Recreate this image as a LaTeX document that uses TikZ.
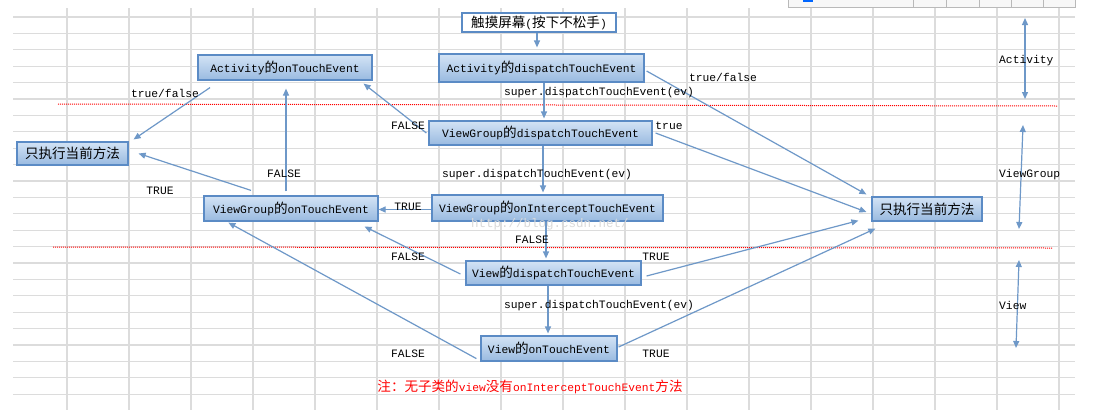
\documentclass[tikz,border=0pt]{standalone}
\usepackage{fontspec}
\setmainfont{Liberation Mono}
\newfontfamily\cjk{Noto Sans CJK SC}[Scale=1.2]
\usetikzlibrary{arrows.meta}

\definecolor{gridgray}{HTML}{DCDCDC}
\definecolor{boxline}{HTML}{5B8BC5}
\definecolor{boxtop}{HTML}{D3E3F5}
\definecolor{boxbot}{HTML}{99BAE0}
\definecolor{flowblue}{HTML}{6E98C8}
\definecolor{markgray}{HTML}{DADADA}

\begin{document}
\begin{tikzpicture}[
  x=1pt, y=-1pt,
  font=\fontsize{11.3}{13}\selectfont,
  fn/.style={draw=boxline, line width=1.2pt, top color=boxtop, bottom color=boxbot, inner sep=0pt},
  startbox/.style={draw=boxline, line width=1.2pt, fill=white, inner sep=0pt},
  flow/.style={draw=flowblue, line width=1.2pt, -{Triangle[length=7pt,width=6pt]}, shorten >=2pt},
  span/.style={draw=flowblue, line width=1.2pt, {Triangle[length=7pt,width=6pt]}-{Triangle[length=7pt,width=6pt]}},
  lbl/.style={inner sep=0pt},
  gridline/.style={draw=gridgray, line width=1.3pt},
  layer/.style={draw=red, line width=1pt, dash pattern=on 1pt off 1pt}
]
\useasboundingbox (0,0) rectangle (1099,413);
\fill[white] (0,0) rectangle (1099,413);

\foreach \k in {0,...,23}
  \draw[gridline] (13,{17+16.4*\k}) -- (1075,{17+16.4*\k});
\foreach \k in {0,...,16}
  \draw[gridline] ({67+62*\k},8) -- ({67+62*\k},410);

\draw[gray!55, fill=gray!6] (788,-1) rectangle (1075,7);
\foreach \x in {913,946,979,1011,1043}
  \draw[gray!55] (\x,-1) -- (\x,7);
\fill[blue!60!cyan] (803,-1) rectangle (813,1.5);

\draw[layer] (58,104) -- (1057,106);
\draw[layer] (53,247) -- (1052,248);

\node[startbox, minimum width=154pt, minimum height=19pt] (touch) at (539,22.5)
  {{\cjk 触摸屏幕}({\cjk 按下不松手})};
\node[fn, minimum width=205pt, minimum height=28pt] (actdisp) at (541.5,68)
  {Activity{\cjk 的}dispatchTouchEvent};
\node[fn, minimum width=174pt, minimum height=25pt] (actontouch) at (285,67.5)
  {Activity{\cjk 的}onTouchEvent};
\node[fn, minimum width=111pt, minimum height=23pt] (leftexec) at (72.5,153.5)
  {\cjk 只执行当前方法};
\node[fn, minimum width=223pt, minimum height=24pt] (vgdisp) at (540.5,133)
  {ViewGroup{\cjk 的}dispatchTouchEvent};
\node[fn, minimum width=174pt, minimum height=25pt] (vgontouch) at (291,208.5)
  {ViewGroup{\cjk 的}onTouchEvent};
\node[fn, minimum width=231pt, minimum height=26pt] (vgint) at (547.5,208)
  {ViewGroup{\cjk 的}onInterceptTouchEvent};
\node[fn, minimum width=175pt, minimum height=24pt] (viewdisp) at (553.5,273)
  {View{\cjk 的}dispatchTouchEvent};
\node[fn, minimum width=136pt, minimum height=25pt] (viewontouch) at (549,348.5)
  {View{\cjk 的}onTouchEvent};
\node[fn, minimum width=110pt, minimum height=24pt] (rightexec) at (927,209)
  {\cjk 只执行当前方法};

\node[lbl, text=markgray, font=\fontsize{12.5}{14}\selectfont] (mark) at (550,224)
  {http://blog.csdn.net/};

\draw[flow, shorten >=0pt] ([xshift=-2pt]touch.south) -- ([xshift=-2pt,yshift=6pt]touch.south |- actdisp.north);
\draw[flow] ([xshift=2.5pt]actdisp.south) -- ([xshift=2.5pt]actdisp.south |- vgdisp.north);
\draw[flow] ([xshift=2.5pt]vgdisp.south) -- ([xshift=2.5pt]vgdisp.south |- vgint.north);
\draw[flow] ([xshift=-1.5pt]vgint.south) -- ([xshift=-1.5pt]vgint.south |- viewdisp.north);
\draw[flow] ([xshift=-5.5pt]viewdisp.south) -- ([xshift=-5.5pt]viewdisp.south |- viewontouch.north);
\draw[flow, shorten >=0pt] ([yshift=-1.5pt]vgint.west) -- ([yshift=-1.5pt]vgint.west -| vgontouch.east);
\draw[flow] ([xshift=-5pt,yshift=4pt]vgontouch.north) -- ([xshift=-5pt,yshift=-6pt]vgontouch.north |- actontouch.south);
\draw[flow, shorten >=0pt] ([xshift=-40pt,yshift=5pt]vgontouch.north) -- ([xshift=10pt]leftexec.east);
\draw[flow, shorten >=0pt] ([xshift=-75pt,yshift=-7pt]actontouch.south) -- ([xshift=5pt,yshift=2pt]leftexec.north east);
\draw[flow, shorten >=0pt] ([xshift=-2pt]vgdisp.west) -- ([xshift=-9pt,yshift=-3pt]actontouch.south east);
\draw[flow, shorten >=0pt] ([xshift=2pt,yshift=-3pt]actdisp.east) -- ([xshift=-5pt,yshift=2pt]rightexec.north west);
\draw[flow, shorten >=0pt] ([xshift=3pt]vgdisp.east) -- ([xshift=-5pt,yshift=-3pt]rightexec.west);
\draw[flow, shorten >=0pt] ([xshift=5pt,yshift=-3pt]viewdisp.east) -- ([xshift=-13pt,yshift=1pt]rightexec.south west);
\draw[flow, shorten >=0pt] ([xshift=1pt,yshift=1.5pt]viewontouch.east) -- ([xshift=4pt,yshift=-7pt]rightexec.south west);
\draw[flow, shorten >=0pt] ([xshift=-5pt,yshift=-1pt]viewdisp.west) -- ([xshift=-14pt,yshift=-5pt]vgontouch.south east);
\draw[flow, shorten >=0pt] ([xshift=-4pt,yshift=3pt]viewontouch.south west) -- ([xshift=25pt,yshift=-1pt]vgontouch.south west);

\node[lbl] (supact) at (599,93) {super.dispatchTouchEvent(ev)};
\node[lbl] (supvg) at (537,175) {super.dispatchTouchEvent(ev)};
\node[lbl] (supview) at (599,306) {super.dispatchTouchEvent(ev)};
\node[lbl] (tfact) at (165,93) {true/false};
\node[lbl] (tfactd) at (723,77) {true/false};
\node[lbl] (truevgd) at (669,126) {true};
\node[lbl] (falsevgd) at (408,126) {FALSE};
\node[lbl] (falsevg) at (284,174) {FALSE};
\node[lbl] (truevg) at (160,191) {TRUE};
\node[lbl] (trueint) at (408,207) {TRUE};
\node[lbl] (falseint) at (532,240) {FALSE};
\node[lbl] (falsevd) at (408,257) {FALSE};
\node[lbl] (truevd) at (656,257) {TRUE};
\node[lbl] (falsevo) at (408,354) {FALSE};
\node[lbl] (truevo) at (656,354) {TRUE};
\node[lbl, text=red] (note) at (530,387)
  {{\cjk 注：无子类的}view{\cjk 没有}onInterceptTouchEvent{\cjk 方法}};

\coordinate (acttop) at (1025,18);
\coordinate (actbot) at (1025,99);
\coordinate (vgtop) at (1023,125);
\coordinate (vgbot) at (1019,229);
\coordinate (viewtop) at (1019,260);
\coordinate (viewbot) at (1016,348);
\draw[span] (acttop) -- (actbot);
\draw[span] (vgtop) -- (vgbot);
\draw[span] (viewtop) -- (viewbot);
\node[lbl, anchor=west] (actside) at (999,61) {Activity};
\node[lbl, anchor=west] (vgside) at (999,175) {ViewGroup};
\node[lbl, anchor=west] (viewside) at (999,305) {View};
\end{tikzpicture}
\end{document}
